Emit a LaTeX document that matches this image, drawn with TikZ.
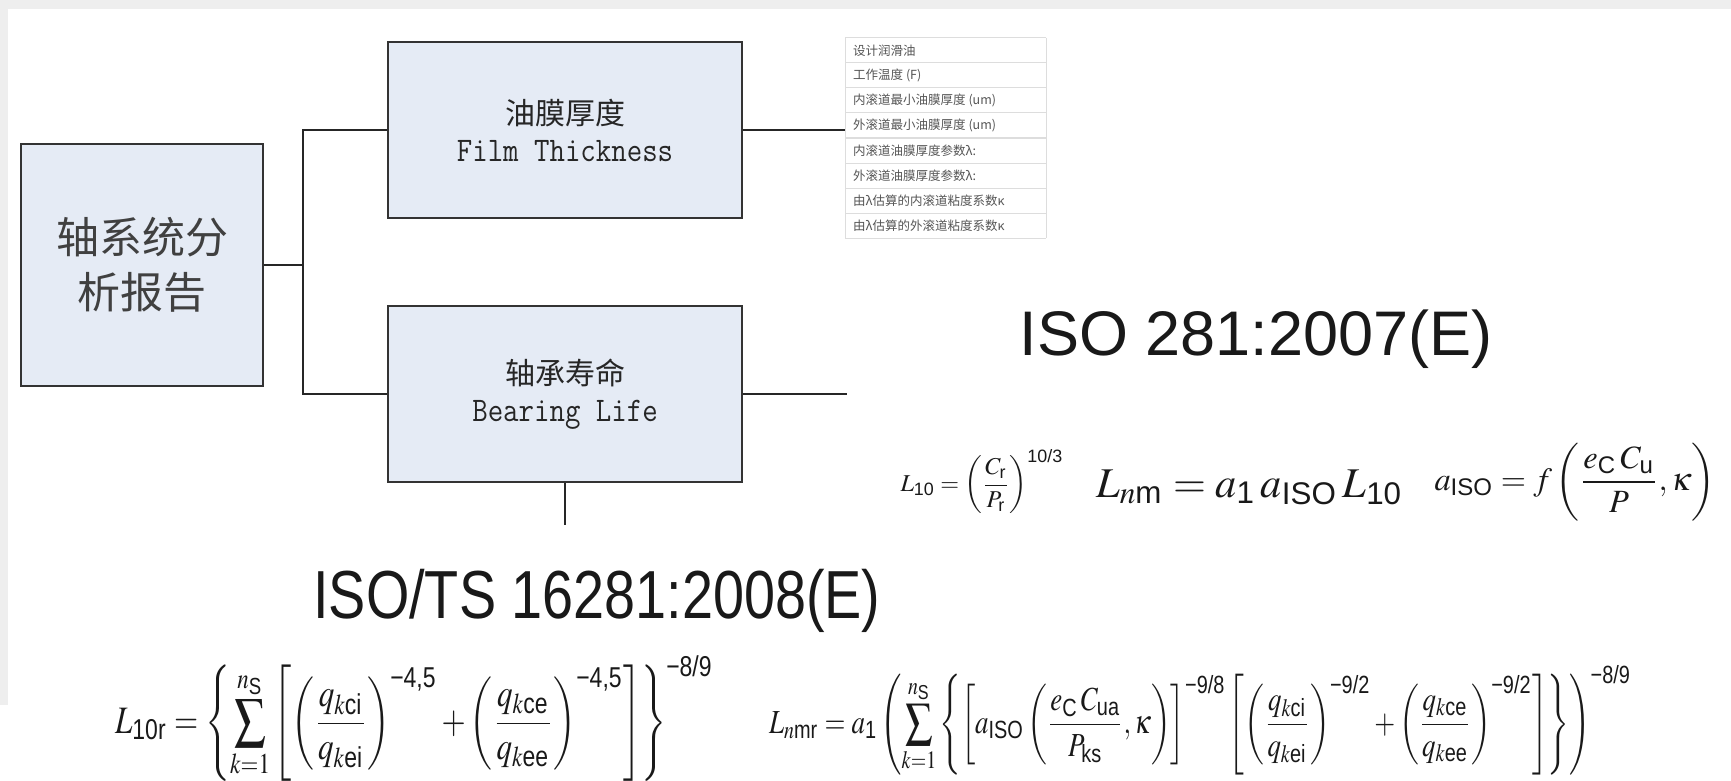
\documentclass[tikz,border=0pt]{standalone}
\usepackage{amsmath}
\usepackage{mathptmx}
\usepackage{graphicx}
\usepackage{fontspec}
\setmainfont{Liberation Serif}
\newfontfamily\cjk{Noto Sans CJK SC}
\newfontfamily\arial{Liberation Sans}
\newcommand\rs[1]{\text{\arial #1}}
\definecolor{bggray}{HTML}{EEEEEE}
\definecolor{boxfill}{HTML}{E5EBF5}
\definecolor{boxline}{HTML}{333333}
\definecolor{tabline}{HTML}{DDDDDD}
\definecolor{tabtext}{HTML}{555555}
\tikzset{
  conn/.style={draw=black!85, line width=1.8pt},
  bluebox/.style={draw=boxline, line width=2pt, fill=boxfill, inner sep=0pt, align=center, text=black!85},
  tabrow/.style={anchor=west, inner sep=0pt, text=tabtext, font=\cjk\fontsize{12.5}{14}\selectfont},
  formula/.style={inner sep=0pt, text=black!90},
}
\begin{document}
\begin{tikzpicture}[x=1pt,y=-1pt]
\useasboundingbox (0,0) rectangle (1731,781);
\fill[white] (0,0) rectangle (1731,781);
\fill[bggray] (0,0) rectangle (1731,9);
\fill[bggray] (0,9) rectangle (8,705);

% boxes
\node[bluebox, minimum width=242pt, minimum height=242pt,
      font=\cjk\fontsize{43}{55}\selectfont, text=black!75] (main) at (142,265) {轴系统分\\析报告};
\node[bluebox, minimum width=354pt, minimum height=176pt,
      font=\fontsize{30}{37}\selectfont] (film) at (565,130)
      {{\cjk 油膜厚度}\\\scalebox{1}[1.15]{\ttfamily\fontsize{30}{37}\selectfont Film Thickness}};
\node[bluebox, minimum width=354pt, minimum height=176pt,
      font=\fontsize{30}{37}\selectfont] (life) at (565,394)
      {{\cjk 轴承寿命}\\\scalebox{1}[1.15]{\ttfamily\fontsize{30}{37}\selectfont Bearing Life}};

% table
\node[anchor=north west, minimum width=201pt, minimum height=200pt, inner sep=0pt] (tbl) at (845,38) {};
\draw[tabline, line width=1pt] (tbl.north west) -- (tbl.south west);
\draw[tabline, line width=0.8pt] (tbl.north east) -- (tbl.south east);
\foreach \i in {0,...,8}{
  \draw[tabline, line width=1pt] ([yshift=-25*\i pt]tbl.north west) -- ([yshift=-25*\i pt]tbl.north east);
}
\foreach \t [count=\i] in {设计润滑油, 工作温度 (F), 内滚道最小油膜厚度 (um), 外滚道最小油膜厚度 (um),
  内滚道油膜厚度参数λ:, 外滚道油膜厚度参数λ:, 由λ估算的内滚道粘度系数κ, 由λ估算的外滚道粘度系数κ}{
  \node[tabrow] (row\i) at (853,{25.5+25*\i}) {\t};
}

% connectors
\draw[conn] (main.east) -- ++(39,0) coordinate (jn);
\draw[conn] (film.west) -| (jn) |- (life.west);
\draw[conn] (film.east) -- (film.east -| tbl.west);
\coordinate (lifeR) at (847,394);
\coordinate (lifeB) at (565,525);
\draw[conn] (life.east) -- (lifeR);
\draw[conn] (life.south) -- (lifeB);

% headings
\node[anchor=base, inner sep=0pt, text=black!90, font=\arial\fontsize{63}{63}\selectfont] (iso281) at (1256,355) {ISO 281:2007(E)};
\node[anchor=base, inner sep=0pt, text=black!90] (iso16281) at (597,618)
  {\scalebox{0.82}[1]{\arial\fontsize{68}{68}\selectfont ISO/TS 16281:2008(E)}};

% formulas (ISO 281)
\node[formula] (f1) at (982,482)
  {\resizebox{163pt}{!}{$L_{\rs{10}}=\left(\dfrac{C_{\rs{r}}}{P_{\rs{r}}}\right)^{\rs{10/3}}$}};
\node[formula, anchor=base west] (f2) at (1096,497)
  {\resizebox{307pt}{!}{$L_{n\rs{m}}=a_{\rs{1}}\,a_{\rs{ISO}}\,L_{\rs{10}}$}};
\node[formula] (f3) at (1575,482)
  {\resizebox{281pt}{!}{$a_{\rs{ISO}}=f\left(\dfrac{e_{\rs{C}}\,C_{\rs{u}}}{P},\kappa\right)$}};

% formulas (ISO/TS 16281)
\node[formula, anchor=base west] (f4) at (115,733)
  {\scalebox{1}[1.25]{\resizebox{598pt}{!}{$\displaystyle L_{\rs{10r}}=\left\{\sum_{k=1}^{n_{\rs{S}}}\left[\left(\frac{q_{k\rs{ci}}}{q_{k\rs{ei}}}\right)^{\rs{−4,5}}+\left(\frac{q_{k\rs{ce}}}{q_{k\rs{ee}}}\right)^{\rs{−4,5}}\right]\right\}^{\rs{−8/9}}$}}};
\node[formula, anchor=base west] (f5) at (769,733)
  {\scalebox{1}[1.25]{\resizebox{862pt}{!}{$\displaystyle L_{n\rs{mr}}=a_{\rs{1}}\left(\sum_{k=1}^{n_{\rs{S}}}\left\{\left[a_{\rs{ISO}}\left(\frac{e_{\rs{C}}\,C_{\rs{ua}}}{P_{\rs{ks}}},\kappa\right)\right]^{\rs{−9/8}}\left[\left(\frac{q_{k\rs{ci}}}{q_{k\rs{ei}}}\right)^{\rs{−9/2}}+\left(\frac{q_{k\rs{ce}}}{q_{k\rs{ee}}}\right)^{\rs{−9/2}}\right]\right\}\right)^{\rs{−8/9}}$}}};
\end{tikzpicture}
\end{document}
